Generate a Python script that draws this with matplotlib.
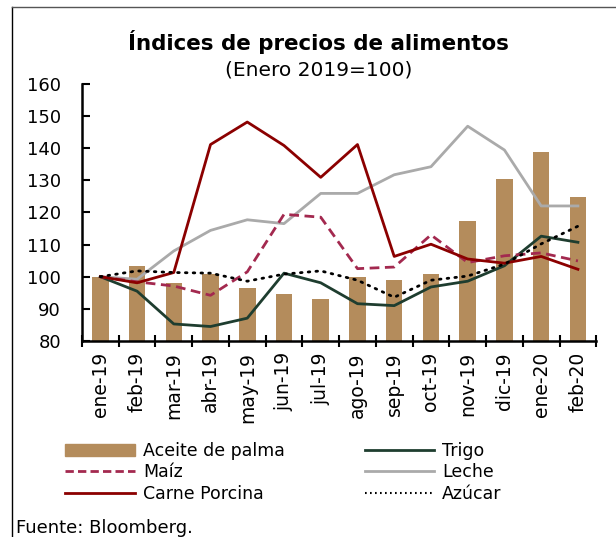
import numpy as np
import matplotlib.pyplot as plt
from matplotlib.lines import Line2D

meses = ["ene-19", "feb-19", "mar-19", "abr-19", "may-19", "jun-19", "jul-19",
         "ago-19", "sep-19", "oct-19", "nov-19", "dic-19", "ene-20", "feb-20"]

aceite_palma = [100, 103.4, 97.9, 100.8, 96.4, 94.5, 93.2,
                100, 98.9, 100.8, 117.2, 130.5, 138.8, 124.8]
trigo = [100, 95.5, 85.3, 84.5, 87.1, 101.1, 98.1,
         91.6, 91.0, 96.8, 98.6, 103.4, 112.6, 110.7]
maiz = [100, 98.4, 97.1, 94.2, 101.5, 119.4, 118.5,
        102.5, 103.0, 113.0, 104.4, 106.5, 107.4, 104.9]
leche = [100, 99.2, 108.0, 114.4, 117.7, 116.5, 125.9,
         125.9, 131.7, 134.2, 146.8, 139.4, 122.0, 122.0]
carne_porcina = [100, 98.1, 101.3, 141.1, 148.1, 140.8, 130.9,
                 141.1, 106.3, 110.1, 105.5, 104.2, 106.3, 102.3]
azucar = [100, 101.8, 101.3, 101.1, 98.6, 100.8, 101.8,
          98.9, 93.6, 98.9, 100.2, 103.9, 110.2, 115.7]

plt.rcParams['font.family'] = ['DejaVu Sans']

fig = plt.figure(figsize=(6.16, 5.37), dpi=100)
ax = fig.add_axes([0.133, 0.365, 0.835, 0.479])

x = np.arange(len(meses))
c_palma = "#B48C5C"
c_trigo = "#1E3D2F"
c_maiz = "#A3294F"
c_leche = "#AAAAAA"
c_carne = "#8B0000"

# barras desde la base 80
ax.bar(x, [v - 80 for v in aceite_palma], bottom=80, width=0.45, color=c_palma, zorder=1)
ax.plot(x, trigo, color=c_trigo, lw=2, zorder=3)
ax.plot(x, maiz, color=c_maiz, lw=2, ls=(0, (3.5, 2)), zorder=3)
ax.plot(x, leche, color=c_leche, lw=2, zorder=2)
ax.plot(x, carne_porcina, color=c_carne, lw=2, zorder=3)
ax.plot(x, azucar, color="black", lw=2, ls=(0, (0.6, 2.2)), dash_capstyle="round", zorder=4)

ax.set_xlim(-0.5, len(meses) - 0.5)
ax.set_ylim(80, 160)
ax.set_yticks(range(80, 161, 10))
ax.set_xticks(np.arange(len(meses) + 1) - 0.5, minor=False)
ax.set_xticklabels([])
ax.set_xticks(x, minor=True)
ax.set_xticklabels(meses, minor=True, rotation=90, fontsize=13.5)
ax.tick_params(axis="x", which="minor", length=0, pad=8)
ax.tick_params(axis="x", which="major", direction="inout", length=9, width=1.5)
ax.tick_params(axis="y", direction="in", length=6, width=1.5, labelsize=13, pad=15)
for s in ["top", "right"]:
    ax.spines[s].set_visible(False)
for s in ["left", "bottom"]:
    ax.spines[s].set_linewidth(1.8)

fig.text(0.517, 0.922, "Índices de precios de alimentos", ha="center", va="center",
         fontsize=15.4, fontweight="bold")
fig.text(0.517, 0.869, "(Enero 2019=100)", ha="center", va="center", fontsize=14.5)

handles = [
    plt.Rectangle((0, 0), 1, 1, color=c_palma),
    Line2D([], [], color=c_maiz, lw=2, ls=(0, (3, 1.5))),
    Line2D([], [], color=c_carne, lw=2),
    Line2D([], [], color=c_trigo, lw=2),
    Line2D([], [], color=c_leche, lw=2),
    Line2D([], [], color="black", lw=1.5, ls=(0, (0.8, 1.6))),
]
labels = ["Aceite de palma", "Maíz", "Carne Porcina", "Trigo", "Leche", "Azúcar"]
fig.legend(handles, labels, ncol=2, loc="upper left", bbox_to_anchor=(0.095, 0.19),
           frameon=False, fontsize=12.5, handlelength=4.0, handleheight=0.7,
           handletextpad=0.46, labelspacing=0.2, columnspacing=4.6, borderaxespad=0)

fig.text(0.026, 0.017, "Fuente: Bloomberg.", fontsize=13, va="center")

# marco parcial (izquierda y arriba)
fig.add_artist(Line2D([0.02, 0.02], [0, 0.987], transform=fig.transFigure, color="black", lw=1))
fig.add_artist(Line2D([0.02, 1], [0.987, 0.987], transform=fig.transFigure, color="#555555", lw=1))

fig.savefig("out.png", dpi=100)
